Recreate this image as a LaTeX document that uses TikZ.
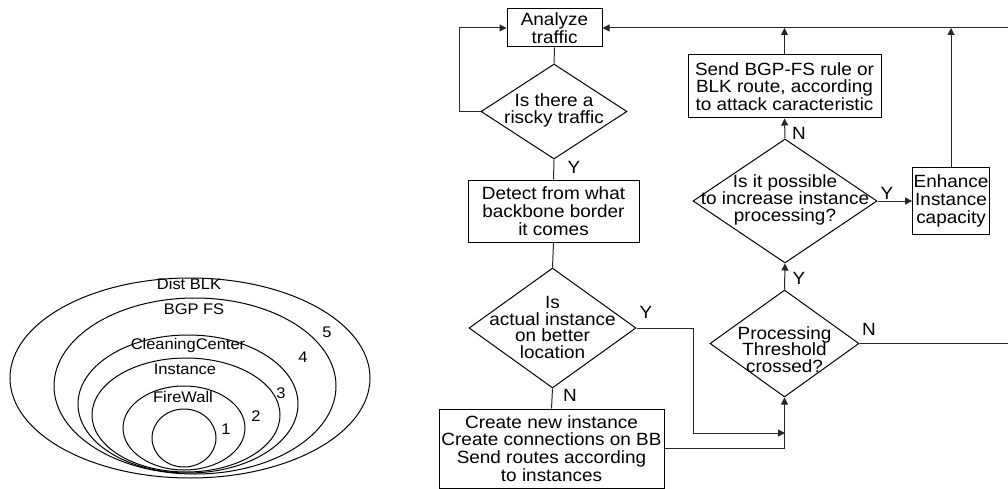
\documentclass[tikz,border=0pt]{standalone}
\usepackage{fontspec}
\setmainfont{Liberation Sans}[FakeStretch=1.07]
\usetikzlibrary{shapes.geometric,arrows.meta}
\newcommand\flowfont{\fontsize{17.7}{17.7}\selectfont}
\newcommand\ringfont{\fontsize{15.4}{16}\selectfont}
\tikzset{
 box/.style={draw, line width=1pt, rectangle, inner sep=1pt, align=center, font=\flowfont},
 dia/.style={draw, line width=1pt, diamond, inner sep=0pt},
 dtext/.style={align=center, font=\flowfont, inner sep=0pt},
 conn/.style={line width=1pt, draw=black!85},
 arr/.style={conn, -{Triangle[length=7pt,width=7pt]}},
 yn/.style={font=\flowfont, inner sep=0pt},
 ring/.style={line width=1pt},
 rlab/.style={font=\ringfont, inner sep=0pt},
}
\begin{document}
\begin{tikzpicture}[x=1pt,y=-1pt]
\useasboundingbox (0,0) rectangle (1008,489);
% ---- rings ----
\draw[ring] (190,378) ellipse [x radius=180pt, y radius=100pt];
\draw[ring] (195,386) ellipse [x radius=141pt, y radius=88pt];
\draw[ring] (188,404) ellipse [x radius=110pt, y radius=69pt];
\draw[ring] (186,415) ellipse [x radius=94pt, y radius=57pt];
\draw[ring] (184,428) ellipse [x radius=61pt, y radius=42pt];
\draw[ring] (184,438) ellipse [x radius=32pt, y radius=29pt];
\node[rlab] (l5) at (189,284) {Dist BLK};
\node[rlab] (l4) at (194,309) {BGP FS};
\node[rlab] (l3) at (188,346) {CleaningCenter};
\node[rlab] (l2) at (185,369) {Instance};
\node[rlab] (l1) at (183,397) {FireWall};
\node[rlab] (n5) at (327,332) {5};
\node[rlab] (n4) at (303,357) {4};
\node[rlab] (n3) at (281,393) {3};
\node[rlab] (n2) at (256,416) {2};
\node[rlab] (n1) at (226,429) {1};
% ---- flowchart ----
\node[box, minimum width=95pt, minimum height=38pt] (analyze) at (554.5,28) {Analyze\\traffic};
\node[dia, minimum width=146pt, minimum height=95pt] (risky) at (554,111.5) {};
\node[dtext] (riskyt) at (554,110.5) {Is there a\\riscky traffic};
\node[box, minimum width=171pt, minimum height=62pt] (detect) at (553.5,211) {Detect from what\\backbone border\\it comes};
\node[dia, minimum width=167pt, minimum height=120pt] (actual) at (552.5,328) {};
\node[dtext, font=\fontsize{17.7}{16.5}\selectfont] (actualt) at (552.5,327.5) {Is\\actual instance\\on better\\location};
\node[box, minimum width=225pt, minimum height=79pt] (create) at (551.5,448.5) {Create new instance\\Create connections on BB\\Send routes according\\to instances};
\node[dia, minimum width=149pt, minimum height=107pt] (proc) at (784.5,343.5) {};
\node[dtext, font=\fontsize{17.7}{16.5}\selectfont] (proct) at (784.5,349.5) {Processing\\Threshold\\crossed?};
\node[dia, minimum width=184pt, minimum height=124pt] (poss) at (785,201) {};
\node[dtext, font=\fontsize{17.7}{17}\selectfont] (posst) at (785,200) {Is it possible\\to increase instance\\processing?};
\node[box, minimum width=193pt, minimum height=63pt] (send) at (784.5,86.5) {Send BGP-FS rule or\\BLK route, according\\to attack caracteristic};
\node[box, minimum width=76pt, minimum height=66pt] (enh) at (951,201) {Enhance\\Instance\\capacity};
\coordinate (e1) at (1008,28);
\coordinate (e2) at (1008,343.5);
\coordinate (j1) at (785,433);
% connectors
\draw[conn] (analyze.south) -- (risky.north);
\draw[arr] (risky.west) -- ++(-21,0) |- (analyze.west);
\draw[conn] (risky.south) -- (detect.north);
\draw[conn] (detect.south) -- (actual.north);
\draw[conn] (actual.south) -- (create.north);
\draw[arr] (actual.east) -- ++(57,0) |- (j1);
\draw[arr] (create.east) -| (proc.south);
\draw[arr] (proc.north) -- (poss.south);
\draw[arr] (poss.north) -- (send.south);
\draw[arr] (send.north) -- (send.north |- analyze.east);
\draw[arr] (poss.east) -- (enh.west);
\draw[arr] (enh.north) -- (enh.north |- analyze.east);
\draw[arr] (e1) -- (analyze.east);
\draw[conn] (proc.east) -- (e2);
% labels
\node[yn] (y1) at (574,167) {Y};
\node[yn] (n1l) at (570,395) {N};
\node[yn] (y2) at (646,312) {Y};
\node[yn] (y3) at (799,278) {Y};
\node[yn] (n2l) at (799,133) {N};
\node[yn] (y4) at (887,193) {Y};
\node[yn] (n3l) at (869,329) {N};
\end{tikzpicture}
\end{document}
